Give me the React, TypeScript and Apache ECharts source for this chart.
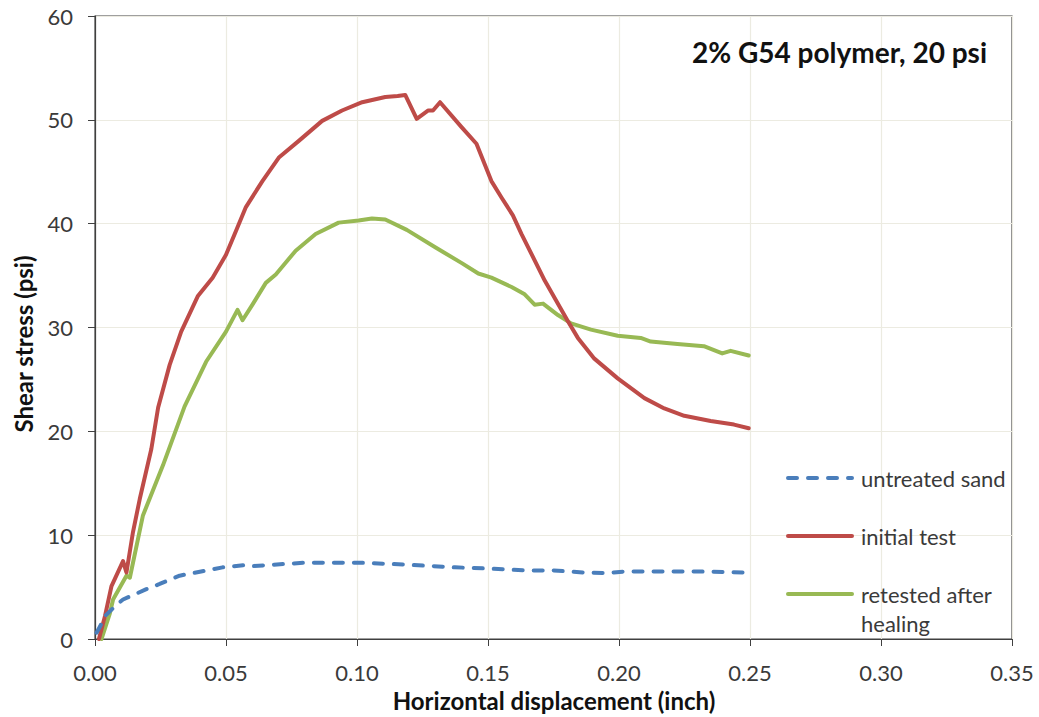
import React, { useEffect, useRef } from "react";
import * as echarts from "echarts";

const FONT = "Lato, 'Open Sans', sans-serif";

const xTicks = [0, 0.05, 0.1, 0.15, 0.2, 0.25, 0.3, 0.35];
const yTicks = [0, 10, 20, 30, 40, 50, 60];

const untreatedX = [0.0006, 0.0019, 0.0038, 0.0082, 0.0107, 0.0196, 0.0247, 0.0323, 0.0405, 0.0487, 0.0566, 0.0589, 0.0706, 0.0804, 0.1007, 0.1158, 0.1374, 0.1488, 0.165, 0.175, 0.1868, 0.195, 0.202, 0.2306, 0.2488];
const untreatedY = [0.6, 1.2, 2.2, 3.3, 3.8, 4.8, 5.3, 6.1, 6.5, 6.9, 7.1, 7.0, 7.2, 7.35, 7.35, 7.2, 6.9, 6.8, 6.6, 6.6, 6.4, 6.35, 6.5, 6.5, 6.4];

const initialX = [0.0015, 0.0038, 0.0063, 0.0107, 0.012, 0.0145, 0.0171, 0.0215, 0.0241, 0.0285, 0.0329, 0.0392, 0.0449, 0.05, 0.0538, 0.0576, 0.0639, 0.0703, 0.0779, 0.0867, 0.0943, 0.102, 0.1108, 0.1155, 0.1184, 0.1228, 0.1272, 0.129, 0.1317, 0.1399, 0.1456, 0.1513, 0.1552, 0.1595, 0.1628, 0.1717, 0.1805, 0.1843, 0.1906, 0.1995, 0.2097, 0.2173, 0.2249, 0.235, 0.2439, 0.2495];
const initialY = [0, 2.2, 5.1, 7.5, 6.4, 10.3, 13.5, 18.3, 22.3, 26.4, 29.6, 33.0, 34.8, 37.0, 39.3, 41.6, 44.1, 46.4, 48.0, 49.9, 50.9, 51.7, 52.2, 52.3, 52.4, 50.1, 50.9, 50.9, 51.7, 49.3, 47.7, 44.1, 42.5, 40.8, 39.0, 34.5, 30.6, 29.0, 27.0, 25.1, 23.2, 22.2, 21.5, 21.0, 20.65, 20.3];

const retestedX = [0.0025, 0.0057, 0.0069, 0.012, 0.0133, 0.0183, 0.0259, 0.0342, 0.0424, 0.05, 0.0544, 0.0563, 0.0601, 0.0652, 0.069, 0.0766, 0.0842, 0.093, 0.1006, 0.1057, 0.1108, 0.119, 0.13, 0.14, 0.1463, 0.1513, 0.159, 0.164, 0.1678, 0.171, 0.1767, 0.1817, 0.1893, 0.1995, 0.2083, 0.2121, 0.2223, 0.2324, 0.2394, 0.2426, 0.2495];
const retestedY = [0, 2.5, 3.8, 6.1, 5.9, 11.9, 16.7, 22.4, 26.7, 29.6, 31.7, 30.7, 32.2, 34.3, 35.1, 37.4, 39.0, 40.1, 40.3, 40.5, 40.4, 39.4, 37.7, 36.2, 35.2, 34.8, 33.9, 33.2, 32.2, 32.3, 31.2, 30.4, 29.8, 29.2, 29.0, 28.65, 28.4, 28.2, 27.5, 27.75, 27.3];

const seriesNames = ["untreated sand", "initial test", "retested after healing"];
const seriesColors = ["#4a7ebb", "#be4b48", "#98b954"];

const pairs = (xs: number[], ys: number[]) => xs.map((x, i) => [x, ys[i]]);

export default function App() {
  const ref = useRef<HTMLDivElement>(null);
  useEffect(() => {
    if (!ref.current) return;
    const chart = echarts.init(ref.current, null, { renderer: "svg" });
    const dataSets = [
      pairs(untreatedX, untreatedY),
      pairs(initialX, initialY),
      pairs(retestedX, retestedY),
    ];
    const legendY = [478, 536, 594];
    const legendGraphics: any[] = [];
    seriesNames.forEach((n, i) => {
      const lineStyle: any = {
        stroke: seriesColors[i],
        fill: "none",
        lineWidth: 4,
        lineCap: "round",
      };
      if (i === 0) lineStyle.lineDash = [9, 11];
      legendGraphics.push({
        type: "line",
        z: 100,
        shape: { x1: 788, y1: legendY[i], x2: 852, y2: legendY[i] },
        style: lineStyle,
      });
      legendGraphics.push({
        type: "text",
        z: 100,
        left: 861,
        top: legendY[i] - 14.5,
        style: {
          text: i === 2 ? "retested after\nhealing" : n,
          font: `22px ${FONT}`,
          fill: "#3a3a3a",
          lineHeight: 29,
        },
      });
    });

    chart.setOption({
      animation: false,
      backgroundColor: "#ffffff",
      grid: {
        left: 95,
        right: 27,
        top: 16,
        bottom: 78,
        show: true,
        borderColor: "#404040",
        borderWidth: 1.2,
      },
      xAxis: {
        type: "value",
        min: xTicks[0],
        max: xTicks[xTicks.length - 1],
        interval: 0.05,
        axisLine: { show: true, onZero: false, lineStyle: { color: "#404040", width: 1.2 } },
        axisTick: { show: true, length: 7, lineStyle: { color: "#404040" } },
        splitLine: { show: true, lineStyle: { color: "#ecebe1", width: 1.2 } },
        axisLabel: {
          margin: 22,
          color: "#3a3a3a",
          fontFamily: FONT,
          fontSize: 22,
          formatter: (v: number) => v.toFixed(2),
        },
      },
      yAxis: {
        type: "value",
        min: yTicks[0],
        max: yTicks[yTicks.length - 1],
        interval: 10,
        axisLine: { show: true, lineStyle: { color: "#404040", width: 1.2 } },
        axisTick: { show: true, length: 7, lineStyle: { color: "#404040" } },
        splitLine: { show: true, lineStyle: { color: "#ecebe1", width: 1.2 } },
        axisLabel: {
          margin: 22,
          color: "#3a3a3a",
          fontFamily: FONT,
          fontSize: 22,
        },
      },
      series: seriesNames.map((n, i) => ({
        name: n,
        type: "line",
        data: dataSets[i],
        showSymbol: false,
        symbol: "none",
        z: 3 - i,
        lineStyle: {
          color: seriesColors[i],
          width: 4,
          type: i === 0 ? [9, 11] : "solid",
          cap: "round",
          join: "round",
        },
      })),
      graphic: [
        {
          type: "text",
          z: 100,
          x: 987,
          y: 52,
          style: {
            text: "2% G54 polymer, 20 psi",
            font: `bold 28px ${FONT}`,
            fill: "#111111",
            textAlign: "right",
            textVerticalAlign: "middle",
          },
        },
        {
          type: "text",
          z: 100,
          x: 554,
          y: 700,
          style: {
            text: "Horizontal displacement (inch)",
            font: `bold 24px ${FONT}`,
            fill: "#111111",
            textAlign: "center",
            textVerticalAlign: "middle",
          },
        },
        {
          type: "text",
          z: 100,
          x: 23,
          y: 344,
          rotation: Math.PI / 2,
          style: {
            text: "Shear stress (psi)",
            font: `bold 24px ${FONT}`,
            fill: "#111111",
            textAlign: "center",
            textVerticalAlign: "middle",
          },
        },
        ...legendGraphics,
      ],
    });
    return () => chart.dispose();
  }, []);
  return (
    <div
      ref={ref}
      style={{ position: "fixed", left: 0, top: 0, width: 1039, height: 717 }}
    />
  );
}
